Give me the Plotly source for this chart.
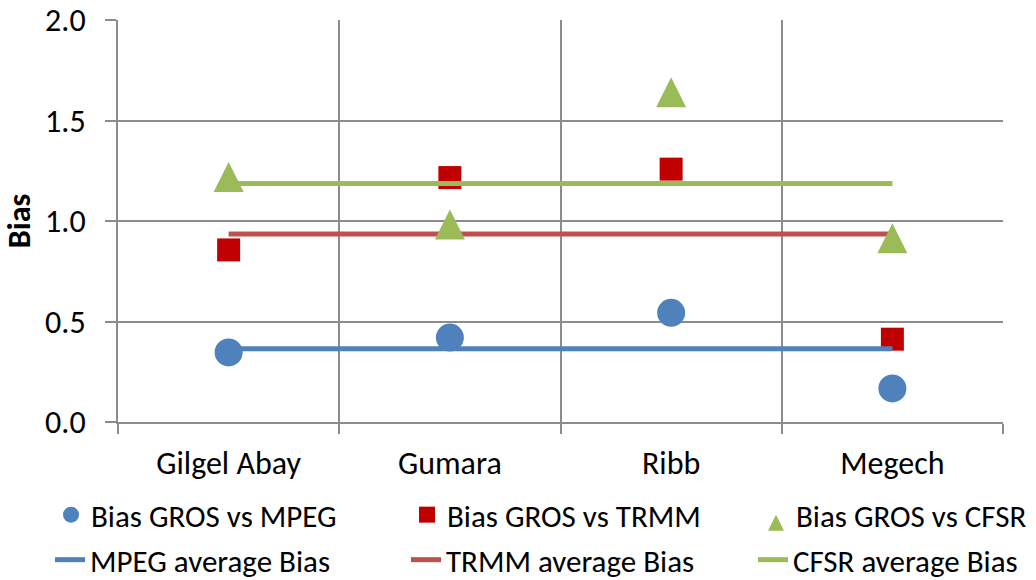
import plotly.graph_objects as go

# Stations and bias values
stations = ["Gilgel Abay", "Gumara", "Ribb", "Megech"]
bias_mpeg = [0.346, 0.420, 0.543, 0.167]
bias_trmm = [0.856, 1.216, 1.258, 0.412]
bias_cfsr = [1.219, 0.983, 1.640, 0.914]

# Average bias of each product across stations
avg_mpeg = 0.365
avg_trmm = 0.935
avg_cfsr = 1.187

y_ticks = [0.0, 0.5, 1.0, 1.5, 2.0]
y_tick_labels = ["0.0", "0.5", "1.0", "1.5", "2.0"]

FONT = "Carlito, Calibri, Lato, sans-serif"
FS = 32
LEGEND_FS = 31
BLUE = "#4F81BD"
DARK_RED = "#C00000"
RED = "#C0504D"
GREEN = "#9BBB59"
GRID = "#8c8c8c"

W, H = 1036, 580
M_L, M_R, M_T, M_B = 118, 33, 20, 158
plot_h = H - M_T - M_B
y_max = 2.0

# The arrow-up symbol has its tip on the data point; a twin y axis lifted
# by half the symbol height centres the triangle on its value instead.
TRI_SIZE = 30
tri_lift = (TRI_SIZE / 2) / plot_h * y_max

fig = go.Figure()

# Station markers (first legend row)
fig.add_trace(go.Scatter(
    x=stations, y=bias_mpeg, mode="markers", name="Bias GROS vs MPEG",
    marker=dict(symbol="circle", size=28, color=BLUE), legend="legend",
))
fig.add_trace(go.Scatter(
    x=stations, y=bias_trmm, mode="markers", name="Bias GROS vs TRMM",
    marker=dict(symbol="square", size=23, color=DARK_RED), legend="legend2",
))
fig.add_trace(go.Scatter(
    x=stations, y=bias_cfsr, mode="markers", name="Bias GROS vs CFSR",
    marker=dict(symbol="arrow-up", size=TRI_SIZE, color=GREEN),
    yaxis="y2", legend="legend3",
))

# Average lines spanning first to last station (second legend row)
ends = [stations[0], stations[-1]]
fig.add_trace(go.Scatter(
    x=ends, y=[avg_mpeg, avg_mpeg], mode="lines", name="MPEG average Bias",
    line=dict(color=BLUE, width=5), legend="legend4",
))
fig.add_trace(go.Scatter(
    x=ends, y=[avg_trmm, avg_trmm], mode="lines", name="TRMM average Bias",
    line=dict(color=RED, width=5), legend="legend5",
))
fig.add_trace(go.Scatter(
    x=ends, y=[avg_cfsr, avg_cfsr], mode="lines", name="CFSR average Bias",
    line=dict(color=GREEN, width=5), legend="legend6",
))

# One single-entry legend per slot: 3 columns x 2 rows below the plot
legend_slots = {
    "legend": (51, 515), "legend2": (407, 515), "legend3": (756, 515),
    "legend4": (50, 560), "legend5": (406, 560), "legend6": (753, 560),
}
legends = {}
for key, (lx, ly) in legend_slots.items():
    legends[key] = dict(
        xref="container", yref="container",
        x=lx / W, y=(H - ly) / H, xanchor="left", yanchor="middle",
        orientation="h", font=dict(family=FONT, size=LEGEND_FS, color="#000000"),
        bgcolor="rgba(0,0,0,0)", borderwidth=0,
    )

fig.update_layout(
    width=W, height=H,
    margin=dict(l=M_L, r=M_R, t=M_T, b=M_B, autoexpand=False),
    paper_bgcolor="white", plot_bgcolor="white",
    font=dict(family=FONT, size=FS, color="#000000"),
    showlegend=True,
    **legends,
    xaxis=dict(
        type="category", categoryorder="array", categoryarray=stations,
        range=[-0.5, 3.5], tickson="boundaries",
        showgrid=True, gridcolor=GRID, gridwidth=2,
        showline=True, linecolor=GRID, linewidth=2,
        ticks="outside", ticklen=10, tickwidth=2, tickcolor=GRID,
        ticklabelstandoff=12,
        tickfont=dict(family=FONT, size=FS, color="#000000"),
        zeroline=False,
    ),
    yaxis=dict(
        range=[0, y_max], tickvals=y_ticks, ticktext=y_tick_labels,
        showgrid=True, gridcolor=GRID, gridwidth=2,
        showline=True, linecolor=GRID, linewidth=2,
        ticks="outside", ticklen=11, tickwidth=2, tickcolor=GRID,
        ticklabelstandoff=13,
        tickfont=dict(family=FONT, size=FS, color="#000000"),
        zeroline=False,
        title=dict(text="<b>Bias</b>", font=dict(family=FONT, size=FS), standoff=12),
    ),
    yaxis2=dict(
        overlaying="y", range=[-tri_lift, y_max - tri_lift],
        visible=False, showgrid=False, zeroline=False,
    ),
)

fig.write_html("out.html")
